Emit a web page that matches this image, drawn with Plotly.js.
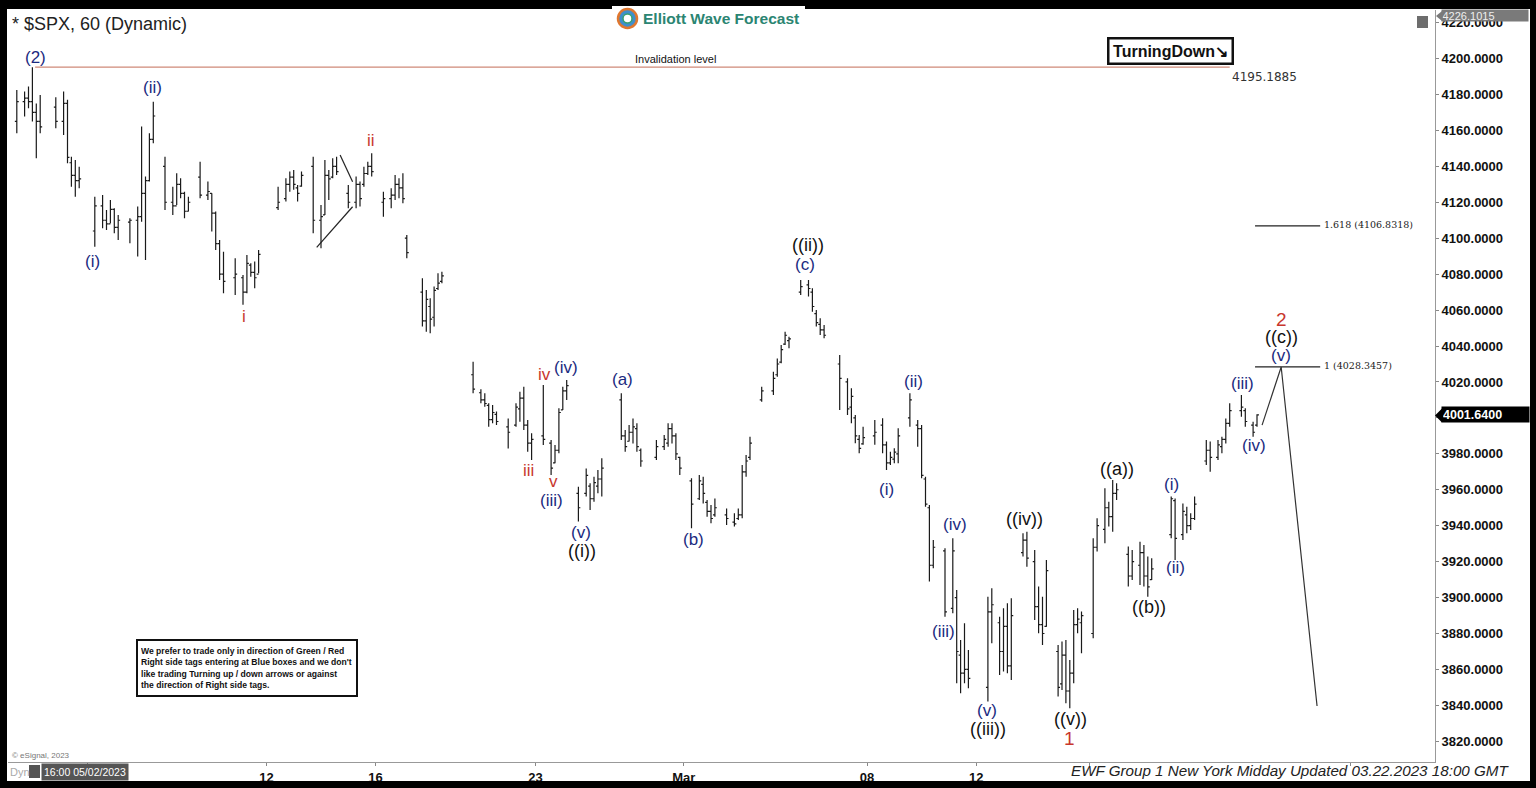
<!DOCTYPE html>
<html>
<head>
<meta charset="utf-8">
<script src="https://cdn.plot.ly/plotly-3.0.1.min.js"></script>
<style>html,body{margin:0;padding:0;background:#fff;}#chart{width:1536px;height:788px;}</style>
</head>
<body>
<div id="chart"></div>
<script>
// ---------- DATA (hourly bars, x = bar index) ----------
const barIdx = [2,4,5,6,7,8,12,14,15,16,17,18,22,24,25,26,27,28,31,33,34,35,36,37,40,42,43,44,45,46,49,51,52,53,54,55,58,60,61,62,63,64,69,71,72,73,74,75,78,80,81,82,83,84,87,89,90,91,92,93,96,98,99,100,101,102,106,107,108,109,110,111,
119,121,122,123,124,125,128,130,131,132,133,134,137,139,140,141,142,143,146,148,149,150,151,152,157,158,159,160,161,162,166,168,169,170,171,172,175,177,178,179,180,181,184,186,187,188,189,190,193,196,197,198,199,200,203,205,206,207,208,209,213,
215,216,217,218,219,222,224,225,226,227,228,231,233,234,235,236,237,240,242,243,244,245,246,251,252,254,255,256,257,260,261,263,264,265,266,269,270,271,272,273,274,275,278,279,281,282,283,284,287,288,290,291,292,293,298,299,301,302,303,304,307,308,310,311,312,313,316,317,319,320];

const highP = [4182.5,4181.6,4184.4,4195.2,4175.0,4179.7,4178.4,4181.6,4177.0,4145.4,4143.5,4139.8,
4123.1,4124.0,4115.7,4121.3,4116.7,4112.9,4111.1,4117.6,4162.1,4134.3,4158.4,4176.0,
4145.4,4128.7,4136.1,4133.3,4125.9,4123.1,4142.6,4131.5,4125.0,4114.8,4099.0,4092.5,
4088.8,4079.5,4090.7,4086.0,4087.0,4093.5,4128.7,4133.3,4137.1,4138.0,4129.6,4137.1,
4145.4,4118.5,4143.5,4138.0,4144.5,4145.4,4129.6,4134.3,4131.5,4139.8,4142.6,4147.3,
4125.9,4127.8,4135.2,4133.3,4136.1,4101.8,4077.7,4071.2,4066.6,4073.1,4080.5,4081.4,
4031.3,4015.9,4013.7,4008.1,4007.2,4003.5,3999.7,4008.1,4014.6,4017.4,3998.8,3991.4,
4018.3,3987.7,3984.9,4005.3,4017.4,4021.1,3961.7,3971.9,3963.6,3967.3,3971.0,3977.5,
4013.7,3993.3,3996.0,3999.7,3997.0,3983.0,3987.7,3990.5,3997.0,3997.0,3991.4,3978.4,
3966.4,3968.2,3967.3,3954.3,3951.5,3955.2,3949.6,3946.9,3949.6,3973.8,3979.3,3989.5,
4017.4,4025.7,4033.1,4040.6,4048.0,4045.2,4076.7,4076.7,4072.1,4060.0,4055.4,4051.7,4035.0,
4022.0,4016.5,4001.6,3990.5,3995.1,3998.8,3999.8,3986.8,3981.2,3983.1,3994.2,4013.7,
3998.8,3996.0,3967.3,3951.5,3932.1,3927.4,3933.0,3904.2,3876.4,3885.7,3870.8,3900.5,
3905.2,3889.4,3894.1,3896.8,3899.6,3935.8,3936.7,3926.5,3906.1,3900.5,3920.9,3873.6,
3875.5,3876.4,3865.3,3893.1,3894.1,3892.2,3933.0,3944.1,3960.8,3953.4,3965.5,3963.6,
3928.4,3926.5,3931.1,3929.3,3922.8,3921.9,3956.2,3955.2,3952.4,3950.6,3946.9,3956.2,
3987.7,3986.8,3987.7,3989.5,3999.7,4008.1,4012.7,4005.3,3997.9,4002.0];

const lowP = [4158.4,4167.7,4172.3,4164.9,4144.5,4158.4,4161.2,4157.5,4141.7,4128.7,4123.1,4127.8,
4095.3,4105.5,4104.6,4108.3,4102.7,4099.0,4097.2,4089.8,4109.2,4087.9,4131.5,4152.8,
4115.7,4112.9,4118.5,4122.2,4111.1,4114.8,4122.2,4121.3,4103.7,4093.5,4076.8,4069.3,
4068.4,4062.9,4069.3,4078.6,4072.1,4080.5,4115.7,4120.4,4125.9,4126.9,4120.4,4128.7,
4102.7,4094.4,4112.9,4121.3,4133.3,4135.2,4116.7,4116.7,4117.6,4128.7,4135.2,4134.3,
4112.0,4116.7,4121.3,4122.2,4119.4,4088.8,4050.8,4048.0,4047.1,4050.8,4071.2,4074.9,
4013.7,4008.1,4006.2,3995.1,3997.0,3996.0,3983.0,3995.1,3997.9,3993.3,3981.2,3976.6,
3984.9,3968.2,3974.7,3980.3,4004.4,4009.9,3942.3,3956.2,3948.7,3953.4,3958.0,3956.2,
3987.7,3981.2,3986.8,3985.8,3981.2,3972.8,3976.6,3982.1,3984.0,3985.8,3976.6,3968.2,
3938.6,3954.3,3952.4,3945.0,3941.3,3945.0,3940.4,3939.5,3943.2,3944.1,3967.3,3976.6,
4009.0,4012.7,4022.9,4030.4,4040.6,4038.7,4068.4,4067.5,4059.1,4050.8,4046.1,4044.3,4004.4,
4001.6,3997.0,3985.9,3980.3,3985.0,3985.0,3980.3,3971.0,3973.8,3974.7,3974.7,3995.1,
3984.0,3966.4,3950.6,3908.9,3916.3,3889.4,3891.3,3852.3,3846.7,3852.3,3849.5,3842.1,
3874.6,3856.9,3858.8,3857.9,3854.1,3922.8,3917.2,3887.5,3880.1,3873.6,3883.8,3844.9,
3848.6,3841.2,3838.4,3852.3,3880.1,3869.0,3877.3,3925.6,3930.2,3939.5,3936.7,3954.3,
3906.1,3909.8,3907.0,3906.1,3900.5,3909.8,3933.0,3920.9,3932.0,3935.8,3937.6,3943.2,
3973.8,3970.0,3976.6,3980.3,3985.8,3995.1,4000.7,3995.1,3989.5,3995.1];

const openP = [4165,4176,4178,4176,4170,4165,4173,4165,4175,4142,4135,4132,
4104,4118,4110,4108,4116,4106,4109,4110,4112,4125,4132,4155,
4140,4120,4118,4130,4125,4115,4134,4124,4125,4114,4097,4080,
4078,4078,4070,4085,4081,4080,4117,4122,4130,4134,4128,4129,
4140,4110,4113,4135,4134,4140,4125,4120,4130,4130,4136,4140,
4120,4122,4124,4130,4128,4100,4070,4054,4062,4056,4072,4076,
4024,4014,4010,4007,3999,4002,3995,3996,4005,4011,3996,3986,
3990,3986,3975,3982,4004.5,4015,3958,3958,3962,3955,3962,3966,
4010,3990,3987,3992,3994,3982,3978,3984,3986,3994,3990,3978,
3965,3955,3963,3953,3948,3946,3946,3942,3944,3946,3970,3978,
4010,4015,4024,4031,4041,4043,4070,4074,4070,4058,4052,4049,4030,
4020,4006,4000,3988,3985.5,3990,3996,3985,3975,3977,3980,4000,
3996,3994,3966,3950,3918,3926,3894,3900,3868,3858,3860,3850,
3892,3886,3870,3884,3862,3925,3932,3920,3895,3885,3884,3870,
3852,3868,3848,3858,3885,3886,3880,3928,3938,3950,3945,3958,
3924,3912,3918,3925,3912,3910,3935,3954,3935,3946,3940,3944,
3976,3982,3978,3984,3988,3997,4004,4004,3996,3996];

const closeP = [4176,4178,4176,4170,4165,4162,4165,4175,4145,4135,4132,4133,
4118,4110,4108,4116,4106,4110,4110,4112,4125,4132,4155,4168,
4120,4118,4130,4125,4115,4120,4124,4126,4114,4097,4080,4076,
4080,4070,4086,4081,4078,4091,4120,4130,4134,4130,4125,4135,
4110,4112,4135,4133,4140,4137,4120,4130,4122,4136,4140,4137,
4122,4124,4130,4128,4122,4092,4054,4066,4055,4071,4075,4079,
4016,4010,4008,3999,4003,3998,3992,4006,4011,3996,3986,3988,
3988,3972,3982,4003,4015,4018,3950,3968,3955,3964,3966,3972,
3990,3984,3992,3995,3984,3976,3984,3988,3994,3990,3980,3972,
3952,3965,3958,3948,3944,3950,3944,3941,3946,3970,3976,3986,
4015,4022,4030,4038,4046,4044,4073,4072,4062,4053,4049,4046,4022,
4005,4012,3990,3983,3989,3992,3985,3975,3978,3981,3990,4010,
3994,3968,3952,3918,3928,3892,3926,3870,3858,3860,3855,3892,
3896,3870,3884,3862,3890,3932,3922,3895,3885,3880,3915,3850,
3868,3848,3858,3885,3888,3890,3928,3940,3950,3945,3958,3960,
3912,3920,3925,3912,3906,3916,3955,3933,3948,3940,3944,3952,
3982,3978,3985,3988,3997,4004,4006,3998,3992,4001.64];

// x-axis ticks
const tickIdx = [20, 66, 94, 135, 173, 220, 248, 277, 344];
const tickLabels = ['', '12', '16', '23', 'Mar', '08', '12', '', ''];
// y-axis ticks (4000 label hidden under the last-price flag)
const yTicks = [3820,3840,3860,3880,3900,3920,3940,3960,3980,4000,4020,4040,4060,4080,4100,4120,4140,4160,4180,4200,4220];
const yHidden = [4000];

// wave labels
const waveText = ['(2)','(ii)','(i)','ii','i','iv','iii','v','(iv)','(iii)','(v)','((i))','(a)','(b)','(c)','((ii))','(ii)','(i)','(iv)','(iii)','(v)','((iii))','((iv))','((v))','1','((a))','((b))','(i)','(ii)','(iii)','(iv)','(v)','((c))','2'];
const waveX = [6.9,36.7,21.5,92.8,60.3,137.2,133.1,139.5,142.8,139.2,146.7,146.9,157.2,175.4,204.1,204.9,231.8,225.1,242.6,239.7,250.8,251.0,260.5,272.1,271.8,284.1,292.3,298.2,299.0,316.4,319.2,326.2,326.2,326.2];
const waveY = [4200.8,4184.1,4086.8,4154.6,4056.2,4024.0,3970.5,3964.4,4028.3,3954.3,3936.5,3925.9,4021.1,3932.6,4085.6,4096.2,4020.0,3960.4,3940.4,3881.4,3836.9,3826.9,3943.7,3832.5,3821.4,3971.6,3894.8,3962.7,3917.0,4019.4,3984.4,4035.0,4045.0,4055.0];
const waveDeg = ['b','b','b','r','r','r','r','r','b','b','b','k','b','b','b','k','b','b','b','b','b','k','k','k','R','k','k','b','b','b','b','b','k','R'];

// levels
const levelValues = [4195.1885, 4106.8318, 4028.3457];
const levelLabels = ['4195.1885', '1.618 (4106.8318)', '1 (4028.3457)'];
const levelFrom = [6.7, 319.5, 319.5];
const levelTo = [313.0, 336.2, 336.2];

// projection & diagonal lines
const projX = [321.3, 326.2, 335.4];
const projY = [3996.0, 4028.35, 3839.7];
const diagAX = [78.9, 88.1], diagAY = [4094.9, 4117.5];
const diagBX = [84.9, 88.1], diagBY = [4146.3, 4131.4];

const lastPrice = 4001.64;
const topPrice = 4226.1015;

// ---------- LAYOUT HELPERS ----------
const L = 8, R = 1435, T = 10, B = 762;
const px2x = p => (p - L) / (R - L);
const py2y = p => (B - p) / (B - T);
const FONT = 'Liberation Sans, Arial, sans-serif';

const colorMap = {b:'#1b2a80', r:'#c8372d', R:'#c8372d', k:'#111111'};
const sizeMap = {b:17, r:17, R:19, k:18};

const traces = [
  {type:'ohlc', x:barIdx, open:openP, high:highP, low:lowP, close:closeP,
   increasing:{line:{color:'#1a1a1a', width:1.2}}, decreasing:{line:{color:'#1a1a1a', width:1.2}},
   tickwidth:0.5, hoverinfo:'skip', showlegend:false},
  {type:'scatter', mode:'lines', x:projX, y:projY, line:{color:'#333', width:1.2}, hoverinfo:'skip', showlegend:false},
  {type:'scatter', mode:'lines', x:diagAX, y:diagAY, line:{color:'#222', width:1.2}, hoverinfo:'skip', showlegend:false},
  {type:'scatter', mode:'lines', x:diagBX, y:diagBY, line:{color:'#222', width:1.2}, hoverinfo:'skip', showlegend:false}
];

const annotations = [];
waveText.forEach((t,i) => {
  annotations.push({x:waveX[i], y:waveY[i], xref:'x', yref:'y', text:t, showarrow:false, xanchor:'center', yanchor:'middle',
    font:{family:FONT, size:sizeMap[waveDeg[i]], color:colorMap[waveDeg[i]]}});
});
// level labels
annotations.push({x:170.8, y:levelValues[0], xref:'x', yref:'y', text:'Invalidation level', showarrow:false, xanchor:'center', yanchor:'bottom', yshift:0,
  font:{family:FONT, size:11, color:'#111'}});
annotations.push({x:levelTo[0], y:levelValues[0], xref:'x', yref:'y', text:levelLabels[0], showarrow:false, xanchor:'left', yanchor:'top', xshift:0, yshift:-1,
  font:{family:'DejaVu Sans, sans-serif', size:12, color:'#333'}});
for (let i=1;i<3;i++){
  annotations.push({x:levelTo[i], y:levelValues[i], xref:'x', yref:'y', text:levelLabels[i], showarrow:false, xanchor:'left', yanchor:'bottom', xshift:2, yshift:-6,
    font:{family:'DejaVu Serif, serif', size:9.5, color:'#222'}});
}
// title
annotations.push({xref:'paper', yref:'paper', x:px2x(10), y:py2y(24), xanchor:'left', yanchor:'middle', showarrow:false,
  text:'* $SPX, 60 (Dynamic)', font:{family:FONT, size:18, color:'#222'}});
// logo text
annotations.push({xref:'paper', yref:'paper', x:px2x(641), y:py2y(18.5), xanchor:'left', yanchor:'middle', showarrow:false,
  text:'<b>Elliott Wave Forecast</b>', font:{family:FONT, size:15.5, color:'#2b8572'}});
// Turning down box
annotations.push({xref:'paper', yref:'paper', x:px2x(1170), y:py2y(50.5), xanchor:'center', yanchor:'middle', showarrow:false,
  text:'<b>TurningDown↘</b>', font:{family:FONT, size:16, color:'#111'},
  bordercolor:'#111', borderwidth:2.5, borderpad:2, bgcolor:'#fff', width:118, height:19});
// disclaimer
annotations.push({xref:'paper', yref:'paper', x:px2x(247.5), y:py2y(667.5), xanchor:'center', yanchor:'middle', showarrow:false, align:'left',
  text:'<b>We prefer to trade only in direction of Green / Red<br>Right side tags entering at Blue boxes and we don\'t<br>like trading Turning up / down arrows or against<br>the direction of Right side tags.</b>',
  font:{family:FONT, size:8.6, color:'#111'}, bordercolor:'#111', borderwidth:2, borderpad:3, bgcolor:'#fff', width:212, height:48});
// price flags
annotations.push({xref:'paper', yref:'y', x:px2x(1441), y:lastPrice, xanchor:'left', yanchor:'middle', showarrow:false,
  text:'<b>'+lastPrice.toFixed(4)+'</b>', font:{family:FONT, size:12.5, color:'#fff'}, bgcolor:'#000', width:85, height:13, borderpad:1, align:'left'});
annotations.push({xref:'paper', yref:'paper', x:px2x(1441), y:py2y(16), xanchor:'left', yanchor:'middle', showarrow:false,
  text:topPrice.toFixed(4), font:{family:FONT, size:11, color:'#eee'}, bgcolor:'#7a7a7a', width:85, height:10, borderpad:0.5, align:'left'});
// bottom strip
annotations.push({xref:'paper', yref:'paper', x:px2x(8), y:py2y(772), xanchor:'left', yanchor:'middle', showarrow:false,
  text:'Dyn', font:{family:FONT, size:11, color:'#aaa'}});
annotations.push({xref:'paper', yref:'paper', x:px2x(85), y:py2y(772), xanchor:'center', yanchor:'middle', showarrow:false,
  text:'16:00 05/02/2023', font:{family:FONT, size:10.5, color:'#fff'}, bgcolor:'#555', borderpad:2});
annotations.push({xref:'paper', yref:'paper', x:px2x(10), y:py2y(755), xanchor:'left', yanchor:'middle', showarrow:false,
  text:'© eSignal, 2023', font:{family:FONT, size:8, color:'#777'}});
annotations.push({xref:'paper', yref:'paper', x:px2x(1069), y:py2y(770), xanchor:'left', yanchor:'middle', showarrow:false,
  text:'<i>EWF Group 1 New York Midday Updated 03.22.2023 18:00 GMT</i>', font:{family:FONT, size:15.2, color:'#222'}});

const shapes = [];
// level lines
const levelColors = ['#cf8a78', '#222', '#222'];
levelValues.forEach((v,i) => {
  shapes.push({type:'line', xref:'x', yref:'y', x0:levelFrom[i], x1:levelTo[i], y0:v, y1:v, line:{color:levelColors[i], width:1.2}});
});
// outer black frame
const frameRect = (x0,y0,x1,y1) => ({type:'rect', xref:'paper', yref:'paper', layer:'above', x0:px2x(x0), x1:px2x(x1), y0:py2y(y1), y1:py2y(y0), fillcolor:'#000', line:{width:0}});
shapes.push(frameRect(0,0,1536,9));
shapes.push(frameRect(0,0,7,788));
shapes.push(frameRect(1530,0,1536,788));
shapes.push(frameRect(0,781,1536,788));
// logo area
shapes.push({type:'rect', xref:'paper', yref:'paper', layer:'above', x0:px2x(612), x1:px2x(805), y0:py2y(30), y1:py2y(6), fillcolor:'#fff', line:{width:0}});
shapes.push({type:'circle', xref:'paper', yref:'paper', layer:'above', x0:px2x(618), x1:px2x(637), y0:py2y(28), y1:py2y(9), fillcolor:'#3f8fcc', line:{color:'#e0772f', width:2.5}});
shapes.push({type:'circle', xref:'paper', yref:'paper', layer:'above', x0:px2x(623), x1:px2x(632), y0:py2y(23), y1:py2y(14), fillcolor:'#ffffff', line:{color:'#3aa06e', width:1.5}});
// small icons
shapes.push({type:'rect', xref:'paper', yref:'paper', layer:'above', x0:px2x(1417), x1:px2x(1428), y0:py2y(28), y1:py2y(16), fillcolor:'#6d6d6d', line:{width:0}});
shapes.push({type:'rect', xref:'paper', yref:'paper', layer:'above', x0:px2x(29), x1:px2x(40), y0:py2y(778), y1:py2y(765), fillcolor:'#555', line:{width:0}});
// flag pointers
shapes.push({type:'path', xref:'paper', yref:'paper', layer:'above',
  path:`M ${px2x(1435)} ${py2y(415.5)} L ${px2x(1442)} ${py2y(408.5)} L ${px2x(1442)} ${py2y(422.5)} Z`, fillcolor:'#000', line:{width:0}});
shapes.push({type:'path', xref:'paper', yref:'paper', layer:'above',
  path:`M ${px2x(1436)} ${py2y(16)} L ${px2x(1442)} ${py2y(11)} L ${px2x(1442)} ${py2y(21)} Z`, fillcolor:'#7a7a7a', line:{width:0}});

const layout = {
  width:1536, height:788,
  margin:{l:L, r:1536-R, t:T, b:788-B, pad:0},
  paper_bgcolor:'#fff', plot_bgcolor:'#fff',
  showlegend:false, hovermode:false,
  xaxis:{range:[-0.256, 365.64], tickmode:'array', tickvals:tickIdx, ticktext:tickLabels,
    showgrid:false, zeroline:false, showline:true, linecolor:'#999', linewidth:1,
    ticks:'outside', ticklen:3, tickcolor:'#888',
    tickfont:{family:FONT, size:13, color:'#111', weight:'bold'},
    rangeslider:{visible:false}, fixedrange:true},
  yaxis:{side:'right', range:[3808.5, 4227.0], tickmode:'array', tickvals:yTicks,
    ticktext:yTicks.map(v => yHidden.includes(v) ? '' : v.toFixed(4)),
    showgrid:false, zeroline:false, showline:true, linecolor:'#999', linewidth:1,
    ticks:'outside', ticklen:3, tickcolor:'#888',
    tickfont:{family:FONT, size:13, color:'#111', weight:'bold'}, fixedrange:true},
  annotations:annotations,
  shapes:shapes
};

Plotly.newPlot('chart', traces, layout, {displayModeBar:false, staticPlot:true});
</script>
</body>
</html>
